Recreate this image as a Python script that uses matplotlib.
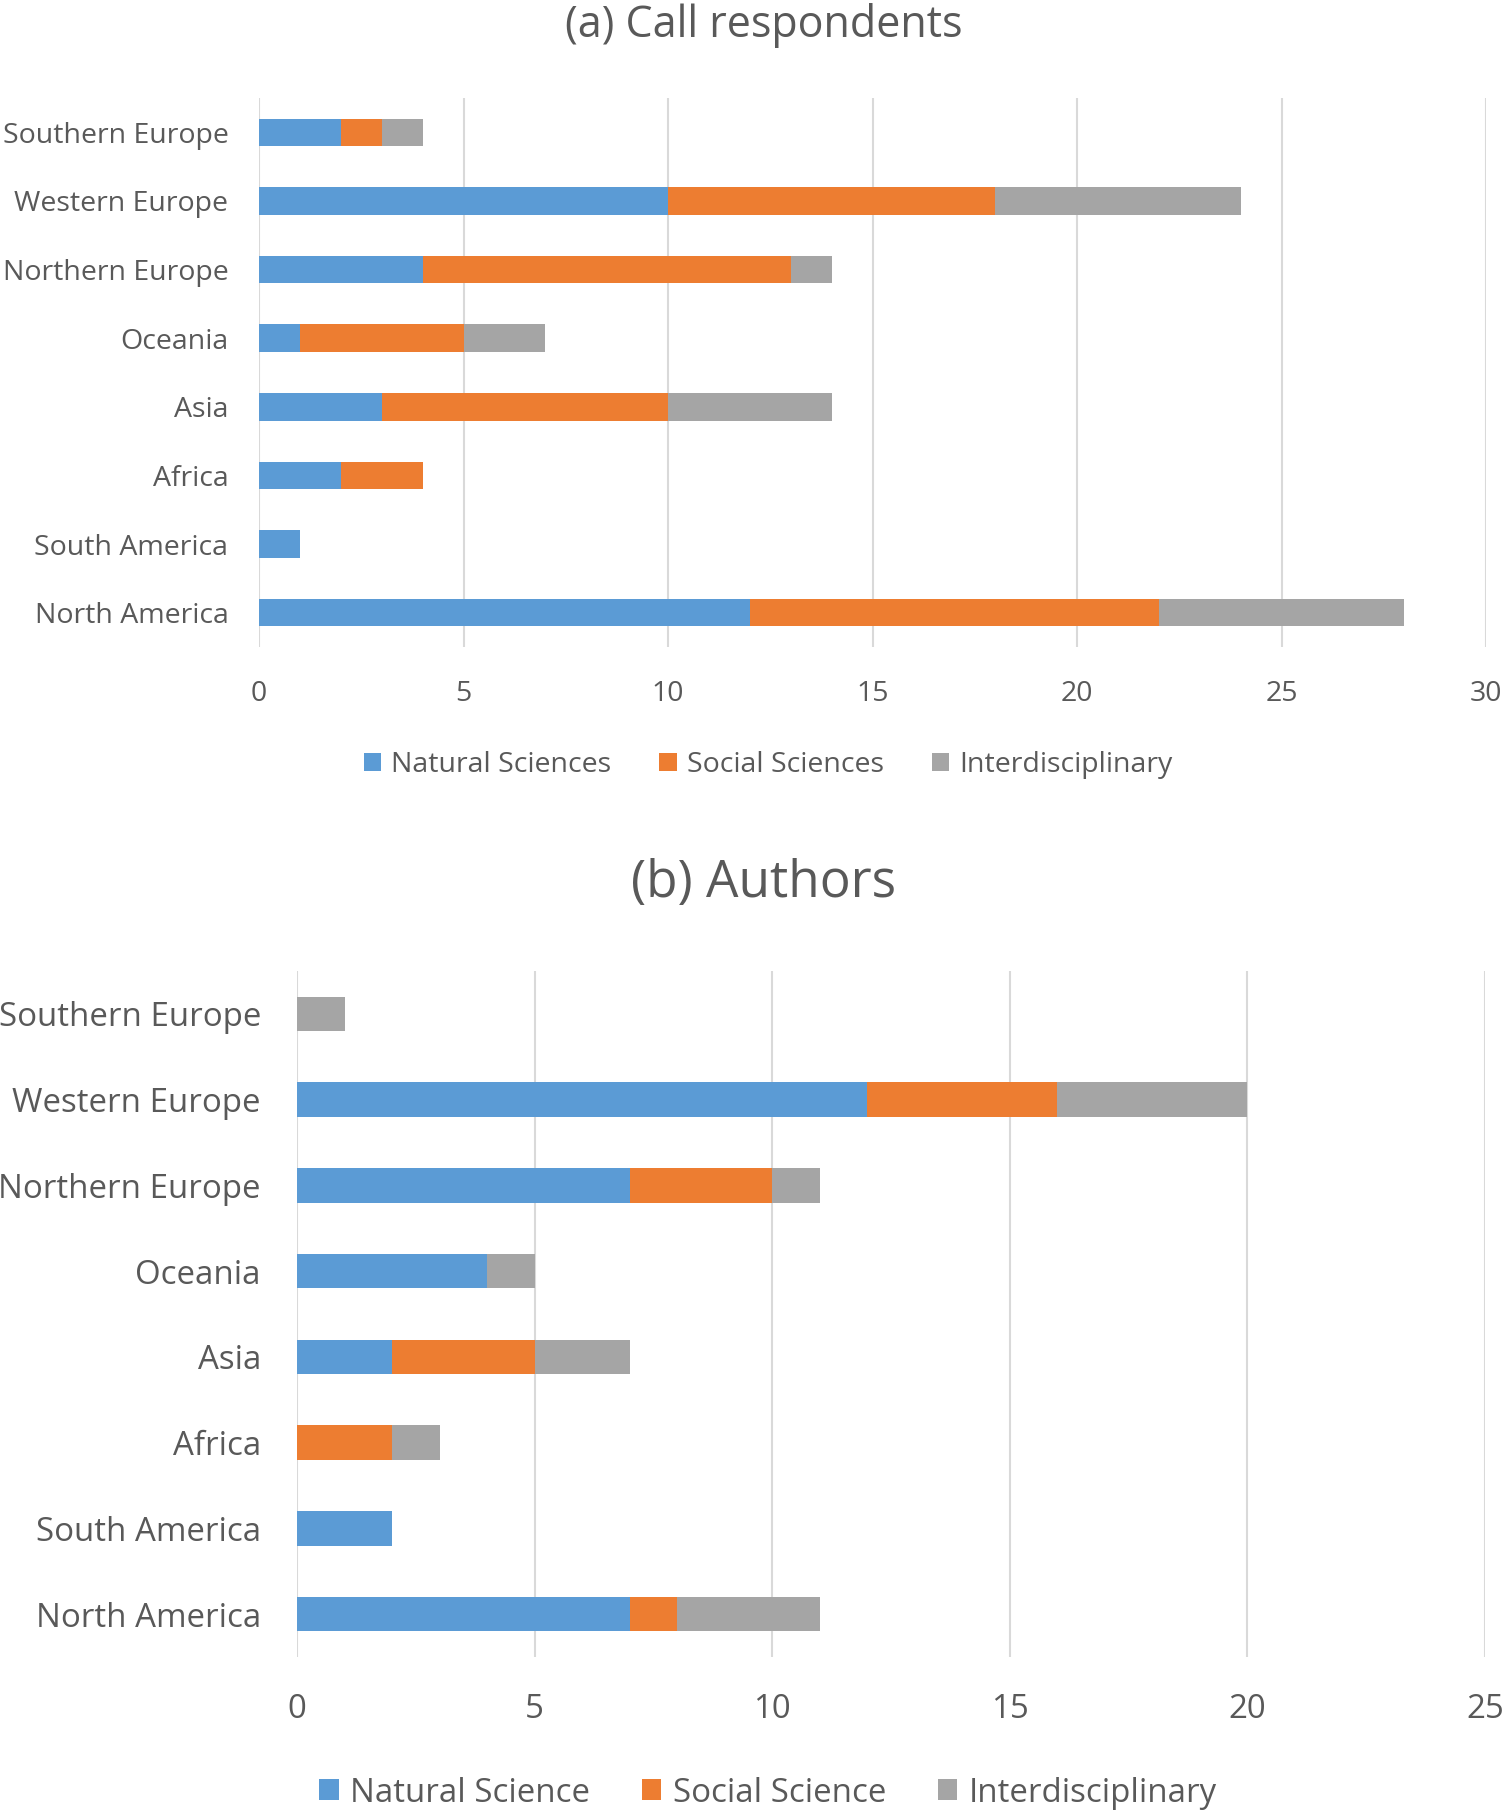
import matplotlib.pyplot as plt

plt.rcParams['font.family'] = ['Open Sans', 'DejaVu Sans']

# regions, listed bottom to top as drawn
regions = ['North America', 'South America', 'Africa', 'Asia', 'Oceania',
           'Northern Europe', 'Western Europe', 'Southern Europe']

# (a) Call respondents
resp_natural = [12, 1, 2, 3, 1, 4, 10, 2]
resp_social = [10, 0, 2, 7, 4, 9, 8, 1]
resp_inter = [6, 0, 0, 4, 2, 1, 6, 1]

# (b) Authors
auth_natural = [7, 2, 0, 2, 4, 7, 12, 0]
auth_social = [1, 0, 2, 3, 0, 3, 4, 0]
auth_inter = [3, 0, 1, 2, 1, 1, 4, 1]

colors = ['#5B9BD5', '#ED7D31', '#A5A5A5']
text_color = '#595959'
grid_color = '#D9D9D9'

W, H = 1506, 1811
fig = plt.figure(figsize=(W / 100, H / 100), dpi=100)


def panel(rect, series, names, xmax, fs, ypad, xpad, title, title_y, title_fs, leg_y, colsp):
    ax = fig.add_axes(rect)
    left = [0] * len(regions)
    handles = []
    for vals, c, name in zip(series, colors, names):
        b = ax.barh(regions, vals, left=left, height=0.4, color=c, linewidth=0, label=name)
        handles.append(b)
        left = [l + v for l, v in zip(left, vals)]
    ax.set_xlim(0, xmax)
    ax.set_ylim(-0.5, len(regions) - 0.5)
    ax.set_xticks(range(0, xmax + 1, 5))
    ax.xaxis.grid(True, color=grid_color, linewidth=1.5)
    ax.set_axisbelow(True)
    for s in ax.spines.values():
        s.set_visible(False)
    ax.tick_params(axis='both', length=0, labelsize=fs, labelcolor=text_color)
    ax.tick_params(axis='y', pad=ypad)
    ax.tick_params(axis='x', pad=xpad)
    fig.text(0.507, title_y, title, ha='center', va='center', fontsize=title_fs, color=text_color)
    fig.legend(handles=handles, loc='center', bbox_to_anchor=(0.51, leg_y), ncol=3,
               frameon=False, fontsize=fs, labelcolor=text_color,
               handlelength=0.6, handleheight=0.6, handletextpad=0.35, columnspacing=colsp)
    return ax


panel([259 / W, 1 - 647 / H, (1486 - 259) / W, 549 / H],
      [resp_natural, resp_social, resp_inter],
      ['Natural Sciences', 'Social Sciences', 'Interdisciplinary'],
      30, 20.5, 22, 23.5, '(a) Call respondents', 1 - 26 / H, 31, 1 - 765 / H, 1.7)

panel([297 / W, 1 - 1657 / H, (1485 - 297) / W, 686 / H],
      [auth_natural, auth_social, auth_inter],
      ['Natural Science', 'Social Science', 'Interdisciplinary'],
      25, 23.8, 26, 26, '(b) Authors', 1 - 884 / H, 37, 1 - 1793 / H, 1.55)

fig.savefig('out.png', dpi=100)
